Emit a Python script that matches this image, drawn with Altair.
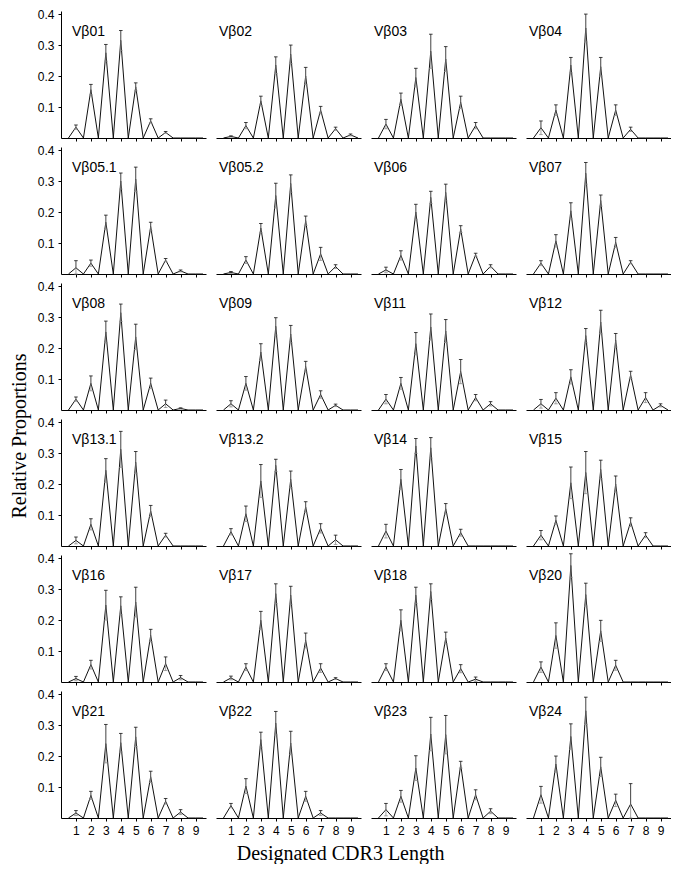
import altair as alt
import pandas as pd

PANELS = ["Vβ01", "Vβ02", "Vβ03", "Vβ04",
          "Vβ05.1", "Vβ05.2", "Vβ06", "Vβ07",
          "Vβ08", "Vβ09", "Vβ11", "Vβ12",
          "Vβ13.1", "Vβ13.2", "Vβ14", "Vβ15",
          "Vβ16", "Vβ17", "Vβ18", "Vβ20",
          "Vβ21", "Vβ22", "Vβ23", "Vβ24"]
LENGTHS = [1, 2, 3, 4, 5, 6, 7, 8, 9]
Y_TICKS = [0.1, 0.2, 0.3, 0.4]

VB01_MEAN = [0.035, 0.156, 0.275, 0.315, 0.165, 0.055, 0.018, 0, 0]
VB01_ERR = [0.007, 0.017, 0.027, 0.032, 0.013, 0.007, 0.003, 0, 0]
VB02_MEAN = [0.005, 0.04, 0.12, 0.235, 0.27, 0.2, 0.09, 0.03, 0.01]
VB02_ERR = [0.002, 0.01, 0.015, 0.027, 0.03, 0.028, 0.012, 0.005, 0.003]
VB03_MEAN = [0.045, 0.125, 0.195, 0.28, 0.255, 0.115, 0.04, 0, 0]
VB03_ERR = [0.015, 0.02, 0.03, 0.055, 0.04, 0.02, 0.01, 0, 0]
VB04_MEAN = [0.033, 0.09, 0.235, 0.355, 0.23, 0.09, 0.028, 0, 0]
VB04_ERR = [0.022, 0.017, 0.025, 0.045, 0.03, 0.017, 0.007, 0, 0]
VB051_MEAN = [0.02, 0.035, 0.167, 0.30, 0.306, 0.153, 0.045, 0.01, 0]
VB051_ERR = [0.023, 0.01, 0.023, 0.026, 0.039, 0.014, 0.005, 0.003, 0]
VB052_MEAN = [0.005, 0.045, 0.148, 0.253, 0.292, 0.172, 0.065, 0.024, 0]
VB052_ERR = [0.003, 0.011, 0.015, 0.04, 0.028, 0.015, 0.021, 0.006, 0]
VB06_MEAN = [0.013, 0.06, 0.2, 0.247, 0.263, 0.145, 0.062, 0.025, 0]
VB06_ERR = [0.009, 0.015, 0.025, 0.02, 0.027, 0.011, 0.005, 0.005, 0]
VB07_MEAN = [0.035, 0.107, 0.204, 0.325, 0.237, 0.102, 0.038, 0, 0]
VB07_ERR = [0.008, 0.02, 0.026, 0.035, 0.018, 0.016, 0.005, 0, 0]
VB08_MEAN = [0.035, 0.086, 0.252, 0.314, 0.236, 0.086, 0.02, 0.005, 0]
VB08_ERR = [0.007, 0.024, 0.035, 0.028, 0.041, 0.017, 0.012, 0.002, 0]
VB09_MEAN = [0.02, 0.086, 0.187, 0.27, 0.245, 0.14, 0.05, 0.015, 0]
VB09_ERR = [0.01, 0.022, 0.027, 0.028, 0.028, 0.017, 0.012, 0.004, 0]
VB11_MEAN = [0.035, 0.086, 0.214, 0.268, 0.255, 0.124, 0.04, 0.02, 0]
VB11_ERR = [0.015, 0.019, 0.036, 0.042, 0.037, 0.039, 0.01, 0.007, 0]
VB12_MEAN = [0.02, 0.038, 0.107, 0.24, 0.284, 0.225, 0.113, 0.04, 0.015]
VB12_ERR = [0.014, 0.018, 0.023, 0.023, 0.038, 0.022, 0.012, 0.016, 0.005]
VB131_MEAN = [0.018, 0.07, 0.244, 0.312, 0.27, 0.113, 0.035, 0, 0]
VB131_ERR = [0.011, 0.018, 0.038, 0.058, 0.035, 0.018, 0.006, 0, 0]
VB132_MEAN = [0.046, 0.104, 0.21, 0.26, 0.215, 0.126, 0.057, 0.02, 0]
VB132_ERR = [0.01, 0.025, 0.053, 0.02, 0.027, 0.017, 0.015, 0.015, 0]
VB14_MEAN = [0.048, 0.215, 0.323, 0.317, 0.12, 0.043, 0, 0, 0]
VB14_ERR = [0.022, 0.032, 0.024, 0.033, 0.017, 0.011, 0, 0, 0]
VB15_MEAN = [0.035, 0.083, 0.204, 0.237, 0.247, 0.2, 0.077, 0.035, 0]
VB15_ERR = [0.015, 0.014, 0.051, 0.068, 0.03, 0.026, 0.014, 0.008, 0]
VB16_MEAN = [0.011, 0.056, 0.248, 0.246, 0.258, 0.15, 0.059, 0.014, 0]
VB16_ERR = [0.007, 0.014, 0.048, 0.029, 0.048, 0.02, 0.022, 0.007, 0]
VB17_MEAN = [0.013, 0.048, 0.199, 0.285, 0.28, 0.134, 0.045, 0.011, 0]
VB17_ERR = [0.006, 0.011, 0.029, 0.032, 0.029, 0.024, 0.014, 0.003, 0]
VB18_MEAN = [0.048, 0.199, 0.28, 0.292, 0.142, 0.043, 0.009, 0, 0]
VB18_ERR = [0.011, 0.034, 0.026, 0.025, 0.019, 0.013, 0.007, 0, 0]
VB20_MEAN = [0.048, 0.15, 0.376, 0.282, 0.165, 0.054, 0, 0, 0]
VB20_ERR = [0.017, 0.041, 0.038, 0.037, 0.034, 0.016, 0, 0, 0]
VB21_MEAN = [0.016, 0.073, 0.24, 0.243, 0.262, 0.133, 0.054, 0.019, 0]
VB21_ERR = [0.008, 0.013, 0.062, 0.03, 0.031, 0.018, 0.009, 0.008, 0]
VB22_MEAN = [0.04, 0.103, 0.253, 0.306, 0.242, 0.07, 0.016, 0, 0]
VB22_ERR = [0.007, 0.024, 0.024, 0.038, 0.038, 0.016, 0.008, 0, 0]
VB23_MEAN = [0.027, 0.07, 0.161, 0.271, 0.269, 0.172, 0.075, 0.022, 0]
VB23_ERR = [0.02, 0.019, 0.04, 0.054, 0.062, 0.011, 0.016, 0.008, 0]
VB24_MEAN = [0.075, 0.174, 0.263, 0.346, 0.165, 0.057, 0.045, 0, 0]
VB24_ERR = [0.027, 0.026, 0.041, 0.044, 0.031, 0.02, 0.066, 0, 0]

MEANS = [VB01_MEAN, VB02_MEAN, VB03_MEAN, VB04_MEAN,
         VB051_MEAN, VB052_MEAN, VB06_MEAN, VB07_MEAN,
         VB08_MEAN, VB09_MEAN, VB11_MEAN, VB12_MEAN,
         VB131_MEAN, VB132_MEAN, VB14_MEAN, VB15_MEAN,
         VB16_MEAN, VB17_MEAN, VB18_MEAN, VB20_MEAN,
         VB21_MEAN, VB22_MEAN, VB23_MEAN, VB24_MEAN]
ERRS = [VB01_ERR, VB02_ERR, VB03_ERR, VB04_ERR,
        VB051_ERR, VB052_ERR, VB06_ERR, VB07_ERR,
        VB08_ERR, VB09_ERR, VB11_ERR, VB12_ERR,
        VB131_ERR, VB132_ERR, VB14_ERR, VB15_ERR,
        VB16_ERR, VB17_ERR, VB18_ERR, VB20_ERR,
        VB21_ERR, VB22_ERR, VB23_ERR, VB24_ERR]

X_DOMAIN = [0, 9.7]
Y_DOMAIN = [0, 0.41]
W, H = 145, 127
NCOL, NROW = 4, 6
INK = "#111111"
SANS = "Liberation Sans"
SERIF = "Liberation Serif"


def panel(i):
    name, means, errs = PANELS[i], MEANS[i], ERRS[i]
    row, col = divmod(i, NCOL)

    pts_x, pts_y = [], []
    for k, m in zip(LENGTHS, means):
        pts_x += [k - 0.5, k]
        pts_y += [0.0, m]
    pts_x.append(LENGTHS[-1] + 0.5)
    pts_y.append(0.0)
    line_df = pd.DataFrame({"x": pts_x, "y": pts_y})

    err_df = pd.DataFrame({"x": LENGTHS, "mean": means, "err": errs})
    err_df = err_df[err_df["err"] > 0]

    xaxis = alt.Axis(values=LENGTHS, tickSize=3, labels=(row == NROW - 1),
                     grid=False, title=None, labelFontSize=12, labelPadding=4,
                     labelAngle=0)
    if col == 0:
        yaxis = alt.Axis(values=Y_TICKS, format=".1f", tickSize=3, grid=False,
                         title=None, labelFontSize=12, labelPadding=4)
    else:
        yaxis = None

    xs = alt.Scale(domain=X_DOMAIN, nice=False, zero=False)
    ys = alt.Scale(domain=Y_DOMAIN, nice=False)

    def X(f):
        return alt.X(f"{f}:Q", scale=xs, axis=xaxis, title=None)

    def Y(f):
        return alt.Y(f"{f}:Q", scale=ys, axis=yaxis, title=None)

    line = alt.Chart(line_df).mark_line(color=INK, strokeWidth=1.0).encode(
        x=X("x"), y=Y("y"))

    eb = alt.Chart(err_df).transform_calculate(
        hi="datum.mean + datum.err",
        lo="max(0, datum.mean - datum.err)",
        xl="datum.x - 0.12",
        xr="datum.x + 0.12",
    )
    up = eb.mark_rule(color=INK, strokeWidth=0.8).encode(
        x=X("x"), y=Y("mean"), y2="hi:Q")
    low = eb.mark_rule(color="#8c8c8c", strokeWidth=0.8).encode(
        x=X("x"), y=Y("lo"), y2="mean:Q")
    cap_hi = eb.mark_rule(color=INK, strokeWidth=0.8).encode(
        x=X("xl"), x2="xr:Q", y=Y("hi"))
    cap_lo = eb.mark_rule(color="#8c8c8c", strokeWidth=0.8).encode(
        x=X("xl"), x2="xr:Q", y=Y("lo"))

    label = alt.Chart(pd.DataFrame({"name": [name]})).mark_text(
        align="left", baseline="middle", font=SANS, fontSize=14, color="black"
    ).encode(x=alt.value(11 if col == 0 else 3), y=alt.value(21), text="name:N")

    return alt.layer(line, low, cap_lo, up, cap_hi, label).properties(width=W, height=H)


grid = alt.concat(*[panel(i) for i in range(len(PANELS))], columns=NCOL,
                  spacing={"row": 9, "column": 10}, bounds="flush").properties(
    title=alt.TitleParams("Relative Proportions", orient="left", anchor="middle",
                          font=SERIF, fontSize=20, fontWeight="normal",
                          color="black", offset=7, dx=-14))

chart = alt.vconcat(grid).properties(
    title=alt.TitleParams("Designated CDR3 Length", orient="bottom", anchor="middle",
                          font=SERIF, fontSize=20, fontWeight="normal",
                          color="black", offset=8, frame="bounds"),
    padding={"left": 2, "top": 0, "right": 0, "bottom": 0},
).configure_view(stroke=None).configure_axis(
    labelFont=SANS, labelColor="black", domainColor="black", tickColor="black",
    domainWidth=1, tickWidth=1
)

chart.save("out.html", embed_options={"renderer": "svg", "actions": False})
